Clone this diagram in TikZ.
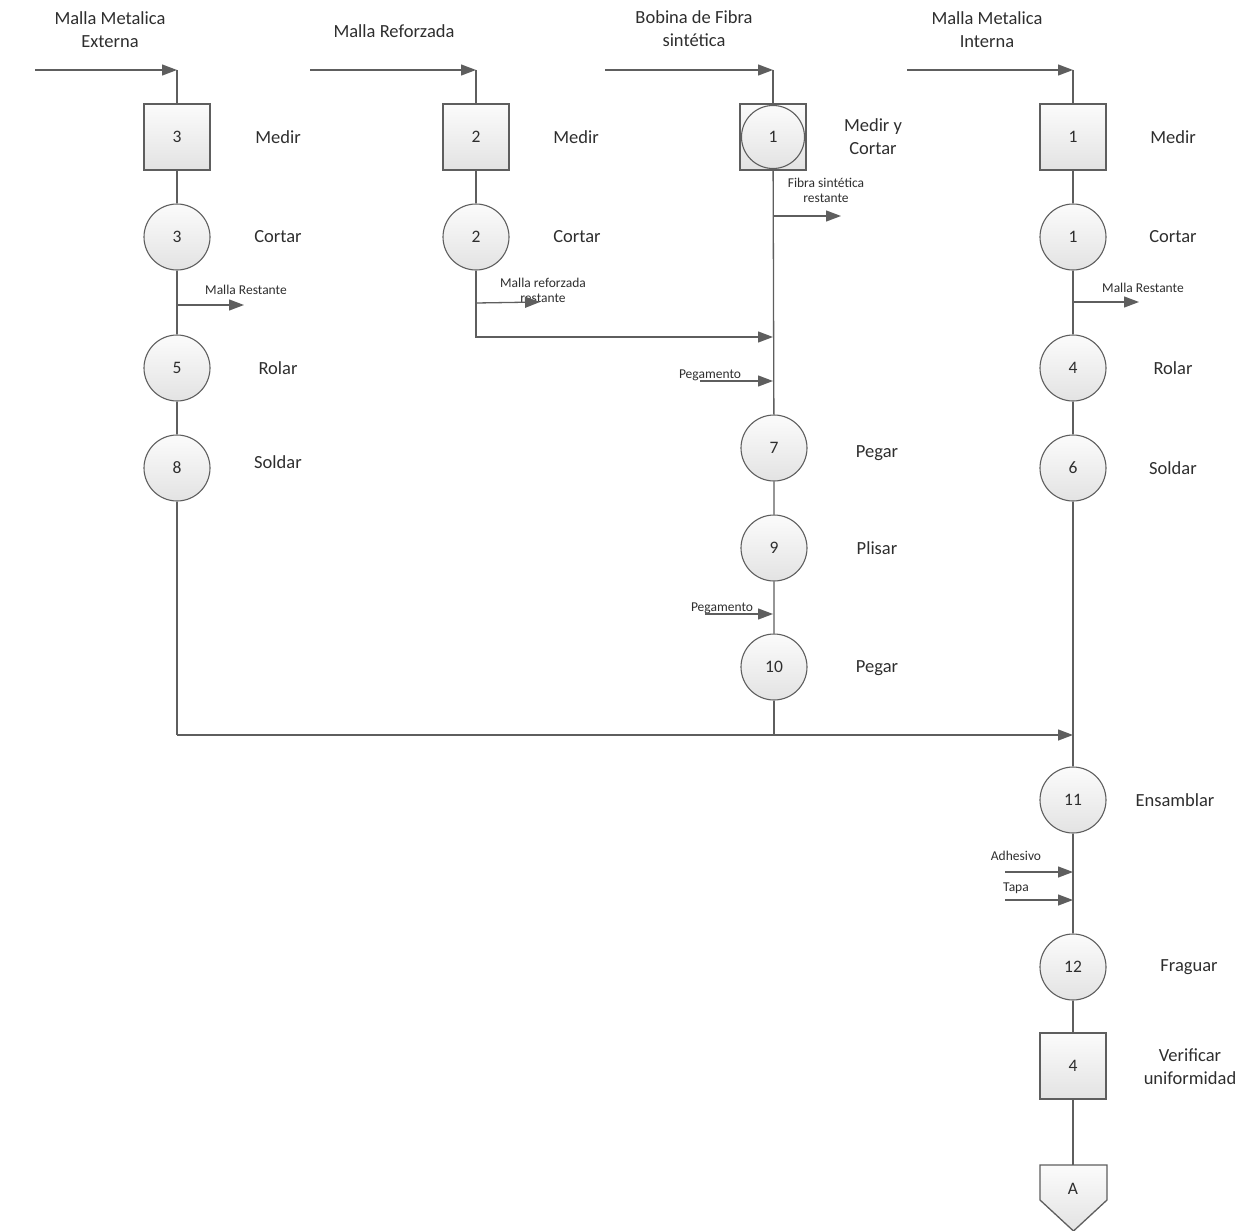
\documentclass[tikz,border=0pt]{standalone}
\usepackage{fontspec}
\setmainfont{Carlito}
\usetikzlibrary{arrows.meta}
\definecolor{lc}{HTML}{5E5E5E}
\definecolor{tc}{HTML}{2E2E2E}
\tikzset{
  shp/.style={draw=lc, line width=1.1pt, inner sep=0pt, top color=gray!3, bottom color=gray!22, text=tc, font=\fontsize{17.5}{20}\selectfont},
  op/.style={shp, circle, minimum size=66pt},
  insp/.style={shp, rectangle, minimum size=66pt},
  lab/.style={align=center, text=tc, font=\fontsize{18.5}{23}\selectfont},
  slab/.style={align=center, text=tc, font=\fontsize{13.5}{15}\selectfont},
  ln/.style={draw=lc, line width=1.3pt},
  arr/.style={ln, -{Triangle[length=15pt,width=11pt]}},
}
\begin{document}
\begin{tikzpicture}[x=1pt,y=-1pt]
\useasboundingbox (0,0) rectangle (1248,1231);

% ---------- Column 1 ----------
\coordinate (c1in) at (35,70);
\coordinate (c1top) at (177,70);
\node[lab] (t1) at (110,30) {Malla Metalica\\Externa};
\node[insp] (s3) at (177,137) {3};
\node[op] (o3) at (177,237) {3};
\node[op] (o5) at (177,368) {5};
\node[op] (o8) at (177,468) {8};
\node[lab] (l1a) at (278,137) {Medir};
\node[lab] (l1b) at (278,237) {Cortar};
\node[lab] (l1c) at (278,368) {Rolar};
\node[lab] (l1d) at (278,462) {Soldar};
\coordinate (b1) at (177,305);
\coordinate (b1e) at (244,305);
\node[slab] (r1) at (246,290) {Malla Restante};
\draw[arr] (c1in) -- (c1top);
\draw[ln] (c1top) -- (s3) -- (o3) -- (o5) -- (o8);
\draw[arr] (b1) -- (b1e);

% ---------- Column 2 ----------
\coordinate (c2in) at (310,70);
\coordinate (c2top) at (476,70);
\node[lab] (t2) at (394,31) {Malla Reforzada};
\node[insp] (s2) at (476,137) {2};
\node[op] (o2) at (476,237) {2};
\node[lab] (l2a) at (576,137) {Medir};
\node[lab] (l2b) at (577,237) {Cortar};
\coordinate (b2) at (476,303);
\coordinate (b2e) at (540,302);
\node[slab] (r2) at (543,290) {Malla reforzada\\restante};
\coordinate (c2bend) at (476,337);
\draw[arr] (c2in) -- (c2top);
\draw[ln] (c2top) -- (s2) -- (o2);
\draw[arr] (b2) -- (b2e);

% ---------- Column 3 ----------
\coordinate (c3in) at (605,70);
\coordinate (c3top) at (773,70);
\node[lab] (t3) at (694,29) {Bobina de Fibra\\sintética};
\node[insp, minimum size=66pt] (s1) at (773,137) {};
\node[op, minimum size=63pt] (o1) at (773,137) {1};
\node[lab] (l3a) at (873,137) {Medir y\\Cortar};
\coordinate (b3) at (773,216);
\coordinate (b3e) at (841,216);
\node[slab] (r3) at (826,190) {Fibra sintética\\restante};
\coordinate (c2join) at (773,337);
\coordinate (p1) at (700,381);
\coordinate (p1e) at (773,381);
\node[slab] (pg1) at (710,375) {Pegamento};
\node[op] (o7) at (774,448) {7};
\node[op] (o9) at (774,548) {9};
\coordinate (p2) at (705,614);
\coordinate (p2e) at (773,614);
\node[slab] (pg2) at (722,608) {Pegamento};
\node[op] (o10) at (774,667) {10};
\node[lab] (l3b) at (877,453) {Pegar};
\node[lab] (l3c) at (877,548) {Plisar};
\node[lab] (l3d) at (877,668) {Pegar};
\draw[arr] (c3in) -- (c3top);
\draw[ln] (c3top) -- (s1);
\draw[ln] (s1) -- (o7) -- (o9) -- (o10);
\draw[arr] (b3) -- (b3e);
\draw[arr] (o2) -- (c2bend) -- (c2join);
\draw[arr] (p1) -- (p1e);
\draw[arr] (p2) -- (p2e);

% ---------- Column 4 ----------
\coordinate (c4in) at (907,70);
\coordinate (c4top) at (1073,70);
\node[lab] (t4) at (987,30) {Malla Metalica\\Interna};
\node[insp] (s1b) at (1073,137) {1};
\node[op] (o1b) at (1073,237) {1};
\node[op] (o4) at (1073,368) {4};
\node[op] (o6) at (1073,468) {6};
\node[lab] (l4a) at (1173,137) {Medir};
\node[lab] (l4b) at (1173,237) {Cortar};
\node[lab] (l4c) at (1173,368) {Rolar};
\node[lab] (l4d) at (1173,468) {Soldar};
\coordinate (b4) at (1073,302);
\coordinate (b4e) at (1139,302);
\node[slab] (r4) at (1143,288) {Malla Restante};
\draw[arr] (c4in) -- (c4top);
\draw[ln] (c4top) -- (s1b) -- (o1b) -- (o4) -- (o6);
\draw[arr] (b4) -- (b4e);

% ---------- Merge and final ----------
\coordinate (m1) at (177,735);
\coordinate (m3) at (774,735);
\coordinate (m4) at (1073,735);
\node[op] (o11) at (1073,800) {11};
\node[lab] (l5a) at (1175,800) {Ensamblar};
\coordinate (a1) at (1005,872);
\coordinate (a1e) at (1073,872);
\node[slab] (ad) at (1016,856) {Adhesivo};
\coordinate (a2) at (1005,900);
\coordinate (a2e) at (1073,900);
\node[slab] (tp) at (1016,888) {Tapa};
\node[op] (o12) at (1073,967) {12};
\node[lab] (l5b) at (1189,967) {Fraguar};
\node[insp] (s4) at (1073,1066) {4};
\node[lab] (l5c) at (1190,1067) {Verificar\\uniformidad};
\draw[ln, top color=gray!3, bottom color=gray!22] (1040,1165) -- (1107,1165) -- (1107,1200) -- (1073.5,1231) -- (1040,1200) -- cycle;
\coordinate (Atop) at (1073,1165);
\node[text=tc, font=\fontsize{17.5}{20}\selectfont] (A) at (1073,1189) {A};

\draw[ln] (o8) -- (m1);
\draw[arr] (m1) -- (m4);
\draw[ln] (o10) -- (m3);
\draw[ln] (o6) -- (o11);
\draw[arr] (a1) -- (a1e);
\draw[arr] (a2) -- (a2e);
\draw[ln] (o11) -- (o12) -- (s4) -- (Atop);
\end{tikzpicture}
\end{document}
